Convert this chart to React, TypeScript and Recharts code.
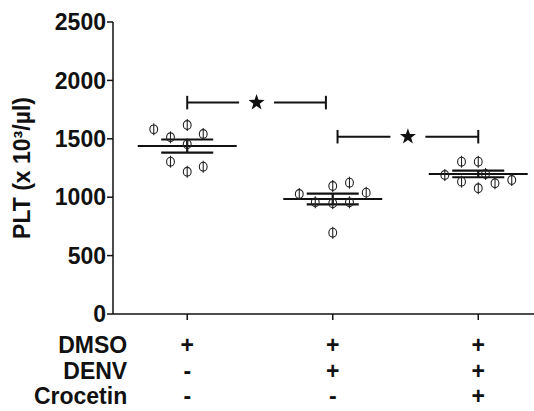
import React from "react";
import {
  ComposedChart,
  Scatter,
  XAxis,
  YAxis,
  ReferenceLine,
  ReferenceDot,
  ErrorBar,
} from "recharts";

// ---- data ----
const groups = [1, 2, 3];
const rowLabels = ["DMSO", "DENV", "Crocetin"];
const dmsoSigns = ["+", "+", "+"];
const denvSigns = ["-", "+", "+"];
const crocetinSigns = ["-", "-", "+"];
const yTicks = [0, 500, 1000, 1500, 2000, 2500];

const group1X = [0.77, 1.0, 0.885, 1.11, 1.0, 0.885, 1.0, 1.11];
const group1Y = [1581, 1618, 1513, 1541, 1453, 1304, 1218, 1261];
const group2X = [1.77, 2.0, 2.115, 2.23, 1.88, 2.0, 2.115, 2.0];
const group2Y = [1027, 1096, 1124, 1039, 956, 948, 956, 696];
const group3X = [2.885, 3.0, 2.77, 3.05, 2.885, 3.0, 3.115, 3.23];
const group3Y = [1304, 1304, 1190, 1199, 1133, 1076, 1119, 1147];

const means = [1438, 985, 1199];
const sems = [56, 46, 28];

const comparisons = [
  { from: 1.0, to: 1.953, y: 1810 },
  { from: 2.033, to: 3.0, y: 1518 },
];

// ---- derived tables ----
const toPoints = (xs: number[], ys: number[]) => xs.map((x, i) => ({ x, y: ys[i] }));
const pts1 = toPoints(group1X, group1Y);
const pts2 = toPoints(group2X, group2Y);
const pts3 = toPoints(group3X, group3Y);
const meanData = groups.map((g, i) => ({ x: g, y: means[i], err: sems[i] }));
const signRows = [dmsoSigns, denvSigns, crocetinSigns];

const FONT = "'Liberation Sans', Arial, sans-serif";
const MEAN_HALF = 0.34;
const GAP_HALF = 0.12;
const END_HALF = 58;

const PhiShape = (props: any) => {
  const { cx, cy } = props;
  if (cx == null || cy == null) return <g />;
  return (
    <g>
      <ellipse cx={cx} cy={cy} rx={3.9} ry={4.4} fill="none" stroke="#222" strokeWidth={1.1} />
      <line x1={cx} x2={cx} y1={cy - 6} y2={cy + 6} stroke="#222" strokeWidth={1.1} />
    </g>
  );
};

const StarShape = (props: any) => {
  const { cx, cy } = props;
  const R = 8.5;
  const r = 3.4;
  const pts: string[] = [];
  for (let k = 0; k < 10; k++) {
    const a = -Math.PI / 2 + (k * Math.PI) / 5;
    const rad = k % 2 === 0 ? R : r;
    pts.push(`${cx + rad * Math.cos(a)},${cy + rad * Math.sin(a)}`);
  }
  return <polygon points={pts.join(" ")} fill="#111" />;
};

const XTick = (props: any) => {
  const { x, y, payload } = props;
  const i = groups.indexOf(payload.value);
  const offs = [31, 56.5, 82];
  return (
    <g>
      {signRows.map((row, k) => (
        <text
          key={k}
          x={x}
          y={y + offs[k]}
          textAnchor="middle"
          fontFamily={FONT}
          fontWeight="bold"
          fontSize={23}
          fill="#111"
        >
          {row[i]}
        </text>
      ))}
      {i === 0 &&
        rowLabels.map((l, k) => (
          <text
            key={"l" + k}
            x={x - 60}
            y={y + offs[k]}
            textAnchor="end"
            fontFamily={FONT}
            fontWeight="bold"
            fontSize={23}
            fill="#111"
          >
            {l}
          </text>
        ))}
    </g>
  );
};

const YLabel = () => (
  <text
    x={22}
    y={168}
    transform="rotate(-90, 22, 168)"
    textAnchor="middle"
    dominantBaseline="central"
    fontFamily={FONT}
    fontWeight="bold"
    fontSize={23}
    fill="#111"
  >
    PLT (x 10³/µl)
  </text>
);

export default function App() {
  return (
    <div style={{ position: "fixed", left: 0, top: 0, width: 534, height: 411, background: "#fff" }}>
      <ComposedChart
        width={534}
        height={411}
        margin={{ top: 22, right: 0, bottom: 0, left: 53 }}
      >
        <XAxis
          type="number"
          dataKey="x"
          domain={[0.49, 3.383]}
          allowDataOverflow
          ticks={groups}
          tick={<XTick />}
          tickSize={6}
          height={97}
          stroke="#111"
          strokeWidth={1.5}
          tickLine={{ stroke: "#111", strokeWidth: 1.5 }}
          interval={0}
        />
        <YAxis
          type="number"
          dataKey="y"
          domain={[0, 2500]}
          ticks={yTicks}
          width={60}
          tickSize={6}
          tickMargin={1}
          stroke="#111"
          strokeWidth={1.5}
          tickLine={{ stroke: "#111", strokeWidth: 1.5 }}
          tick={{ fontFamily: FONT, fontWeight: "bold", fontSize: 23, fill: "#111" }}
          label={<YLabel />}
          interval={0}
        />
        {groups.map((g, i) => (
          <ReferenceLine
            key={"m" + g}
            segment={[
              { x: g - MEAN_HALF, y: means[i] },
              { x: g + MEAN_HALF, y: means[i] },
            ]}
            stroke="#111"
            strokeWidth={2}
          />
        ))}
        <Scatter data={pts1} shape={<PhiShape />} isAnimationActive={false} />
        <Scatter data={pts2} shape={<PhiShape />} isAnimationActive={false} />
        <Scatter data={pts3} shape={<PhiShape />} isAnimationActive={false} />
        <Scatter data={meanData} shape={() => <g />} isAnimationActive={false}>
          <ErrorBar dataKey="err" direction="y" width={26} strokeWidth={2.2} stroke="#111" isAnimationActive={false} />
        </Scatter>
        {comparisons.map((c, i) => {
          const mid = (c.from + c.to) / 2;
          return (
            <React.Fragment key={"c" + i}>
              <ReferenceLine
                segment={[{ x: c.from, y: c.y }, { x: mid - GAP_HALF, y: c.y }]}
                stroke="#111"
                strokeWidth={2}
              />
              <ReferenceLine
                segment={[{ x: mid + GAP_HALF, y: c.y }, { x: c.to, y: c.y }]}
                stroke="#111"
                strokeWidth={2}
              />
              <ReferenceLine
                segment={[{ x: c.from, y: c.y - END_HALF }, { x: c.from, y: c.y + END_HALF }]}
                stroke="#111"
                strokeWidth={2}
              />
              <ReferenceLine
                segment={[{ x: c.to, y: c.y - END_HALF }, { x: c.to, y: c.y + END_HALF }]}
                stroke="#111"
                strokeWidth={2}
              />
              <ReferenceDot x={mid} y={c.y} r={8} shape={<StarShape />} />
            </React.Fragment>
          );
        })}
      </ComposedChart>
    </div>
  );
}
